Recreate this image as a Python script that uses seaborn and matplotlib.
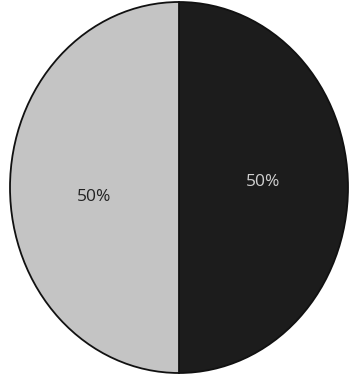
import matplotlib
matplotlib.use("Agg")
import matplotlib.pyplot as plt
import seaborn as sns

categories = ["B", "A"]
values = [50, 50]
slice_colors = ["#1c1c1c", "#c4c4c4"]
label_colors = ["#d0d0d0", "#222222"]

sns.set_theme(style="white")
plt.rcParams["font.family"] = ["Open Sans", "DejaVu Sans"]

fig = plt.figure(figsize=(3.54, 3.75), dpi=100)
fig.patch.set_facecolor("white")
ax = fig.add_axes([10 / 354, 2 / 375, 338 / 354, 371 / 375])

wedges, texts, autotexts = ax.pie(
    values,
    labels=None,
    colors=slice_colors,
    startangle=90,
    counterclock=False,
    autopct="%1.0f%%",
    pctdistance=0.5,
    wedgeprops=dict(edgecolor="#111111", linewidth=1.3),
    textprops=dict(fontsize=12.5),
)
for t, c in zip(autotexts, label_colors):
    t.set_color(c)
# slight vertical offsets seen in the scan
autotexts[0].set_y(autotexts[0].get_position()[1] + 0.03)
autotexts[1].set_y(autotexts[1].get_position()[1] - 0.05)

ax.set_aspect("auto")
ax.set_xlim(-1.0, 1.0)
ax.set_ylim(-1.0, 1.0)
ax.axis("off")

fig.savefig("out.png", dpi=100, facecolor="white")
